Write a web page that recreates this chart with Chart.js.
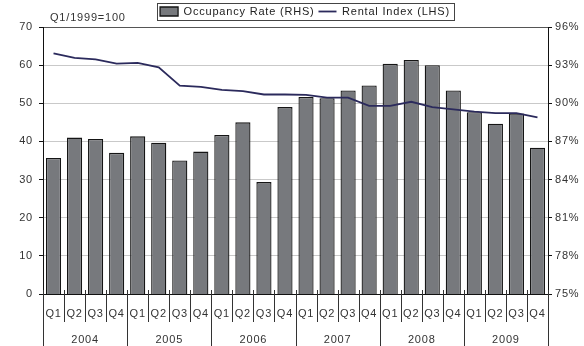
<!DOCTYPE html>
<html>
<head>
<meta charset="utf-8">
<script src="https://cdn.jsdelivr.net/npm/chart.js@4/dist/chart.umd.min.js"></script>
<style>
  html, body { margin: 0; padding: 0; background: #fff; }
  #wrap { width: 584px; height: 346px; }
</style>
</head>
<body>
<div id="wrap"><canvas id="chart"></canvas></div>
<script>
// quarterly categories, grouped by year underneath
const quarters = ['Q1', 'Q2', 'Q3', 'Q4', 'Q1', 'Q2', 'Q3', 'Q4', 'Q1', 'Q2', 'Q3', 'Q4',
                  'Q1', 'Q2', 'Q3', 'Q4', 'Q1', 'Q2', 'Q3', 'Q4', 'Q1', 'Q2', 'Q3', 'Q4'];
const years = ['2004', '2005', '2006', '2007', '2008', '2009'];

// occupancy rate, % (right axis)
const occupancyRate = [85.7, 87.3, 87.2, 86.1, 87.4, 86.9, 85.5, 86.2, 87.5, 88.5, 83.8, 89.7,
                       90.5, 90.4, 91.0, 91.4, 93.1, 93.4, 93.0, 91.0, 89.3, 88.4, 89.2, 86.5];
// rental index, Q1/1999 = 100 (left axis)
const rentalIndex = [63.1, 61.9, 61.5, 60.4, 60.6, 59.4, 54.6, 54.3, 53.5, 53.2, 52.3, 52.3,
                     52.2, 51.5, 51.5, 49.3, 49.3, 50.4, 49.0, 48.4, 47.8, 47.4, 47.4, 46.3];

const leftTicks = { min: 0, max: 70, step: 10 };
const rightTicks = { min: 75, max: 96, step: 3 };
const indexNote = 'Q1/1999=100';

Chart.defaults.font.family = "'Liberation Sans', Arial, sans-serif";
Chart.defaults.font.size = 11;
Chart.defaults.color = '#333';

// wide-set lettering like the printed chart
const spacing = {
    id: 'spacing',
    beforeLayout(chart) { chart.ctx.letterSpacing = '0.8px'; },
    beforeDraw(chart) { chart.ctx.letterSpacing = '0.8px'; }
};

// legend sits a little right of centre
const legendShift = {
    id: 'legendShift',
    afterLayout(chart) {
        chart.legend.left += 13;
        chart.legend.right += 13;
    }
};

// year dividers under the axis, frame round the legend, index note
const extras = {
    id: 'extras',
    afterDraw(chart) {
        const ctx = chart.ctx;
        const x = chart.scales.x;
        const bottom = chart.chartArea.bottom;
        const n = quarters.length;
        const w = (x.right - x.left) / n;
        ctx.save();
        ctx.strokeStyle = '#333';
        ctx.lineWidth = 1;
        for (let i = 0; i <= n; i++) {
            const px = Math.round(x.left + i * w) + 0.5;
            ctx.beginPath();
            ctx.moveTo(px, bottom - 4);
            ctx.lineTo(px, i % 4 === 0 ? chart.height : bottom + 28);
            ctx.stroke();
        }

        const boxes = chart.legend.legendHitBoxes;
        if (boxes.length) {
            const first = boxes[0];
            const last = boxes[boxes.length - 1];
            const l = Math.round(first.left - 3) + 0.5;
            const r = Math.round(last.left + last.width + 4) + 0.5;
            const t = Math.round(first.top - 3) + 0.5;
            const b = Math.round(first.top + first.height + 3) + 0.5;
            ctx.strokeStyle = '#444';
            ctx.strokeRect(l, t, r - l, b - t);
        }

        ctx.fillStyle = '#333';
        ctx.font = "11px 'Liberation Sans', Arial, sans-serif";
        ctx.textAlign = 'left';
        ctx.textBaseline = 'alphabetic';
        ctx.fillText(indexNote, 50, 21);
        ctx.restore();
    }
};

const ctx = document.getElementById('chart').getContext('2d');
new Chart(ctx, {
    type: 'bar',
    data: {
        labels: quarters,
        datasets: [{
            type: 'bar',
            label: 'Occupancy Rate (RHS)',
            data: occupancyRate,
            yAxisID: 'y1',
            backgroundColor: '#77797d',
            borderColor: '#151515',
            borderWidth: 1.3,
            barPercentage: 0.72,
            categoryPercentage: 1,
            pointStyle: 'rect',
            order: 1
        }, {
            type: 'line',
            label: 'Rental Index (LHS)',
            data: rentalIndex,
            yAxisID: 'y',
            borderColor: '#2b2a5c',
            backgroundColor: '#2b2a5c',
            borderWidth: 1.8,
            pointRadius: 0,
            tension: 0,
            pointStyle: 'line',
            order: 0
        }]
    },
    options: {
        responsive: true,
        maintainAspectRatio: false,
        animation: false,
        layout: { padding: { top: 2, left: 0, right: 0, bottom: 0 } },
        plugins: {
            tooltip: { enabled: false },
            legend: {
                position: 'top',
                labels: {
                    usePointStyle: true,
                    pointStyleWidth: 18,
                    boxHeight: 9,
                    padding: 4,
                    color: '#222',
                    sort: (a, b) => a.datasetIndex - b.datasetIndex
                }
            }
        },
        scales: {
            x: {
                type: 'category',
                position: 'bottom',
                grid: { display: false, drawTicks: false },
                border: { display: true, color: '#111', width: 1 },
                ticks: { padding: 13, maxRotation: 0, autoSkip: false, color: '#333' },
                afterFit: s => { s.height = 28; }
            },
            x2: {
                type: 'category',
                position: 'bottom',
                labels: years,
                offset: true,
                grid: { display: false, drawTicks: false },
                border: { display: false },
                ticks: { padding: 11, maxRotation: 0, color: '#333' },
                afterFit: s => { s.height = 24; }
            },
            y: {
                position: 'left',
                min: leftTicks.min,
                max: leftTicks.max,
                ticks: { stepSize: leftTicks.step, padding: 6, color: '#333' },
                grid: {
                    color: c => c.tick.value === leftTicks.max ? '#555' : (c.tick.value === leftTicks.min ? 'rgba(0,0,0,0)' : '#c9c9c9'),
                    lineWidth: 1,
                    tickLength: 4,
                    tickColor: '#111'
                },
                border: { color: '#111', width: 1 },
                afterFit: s => { s.width = 43; }
            },
            y1: {
                position: 'right',
                min: rightTicks.min,
                max: rightTicks.max,
                ticks: { stepSize: rightTicks.step, padding: 3, color: '#333', callback: v => v + '%' },
                grid: { drawOnChartArea: false, tickLength: 4, tickColor: '#111' },
                border: { color: '#111', width: 1 },
                afterFit: s => { s.width = 36; }
            }
        }
    },
    plugins: [spacing, legendShift, extras]
});
</script>
</body>
</html>
